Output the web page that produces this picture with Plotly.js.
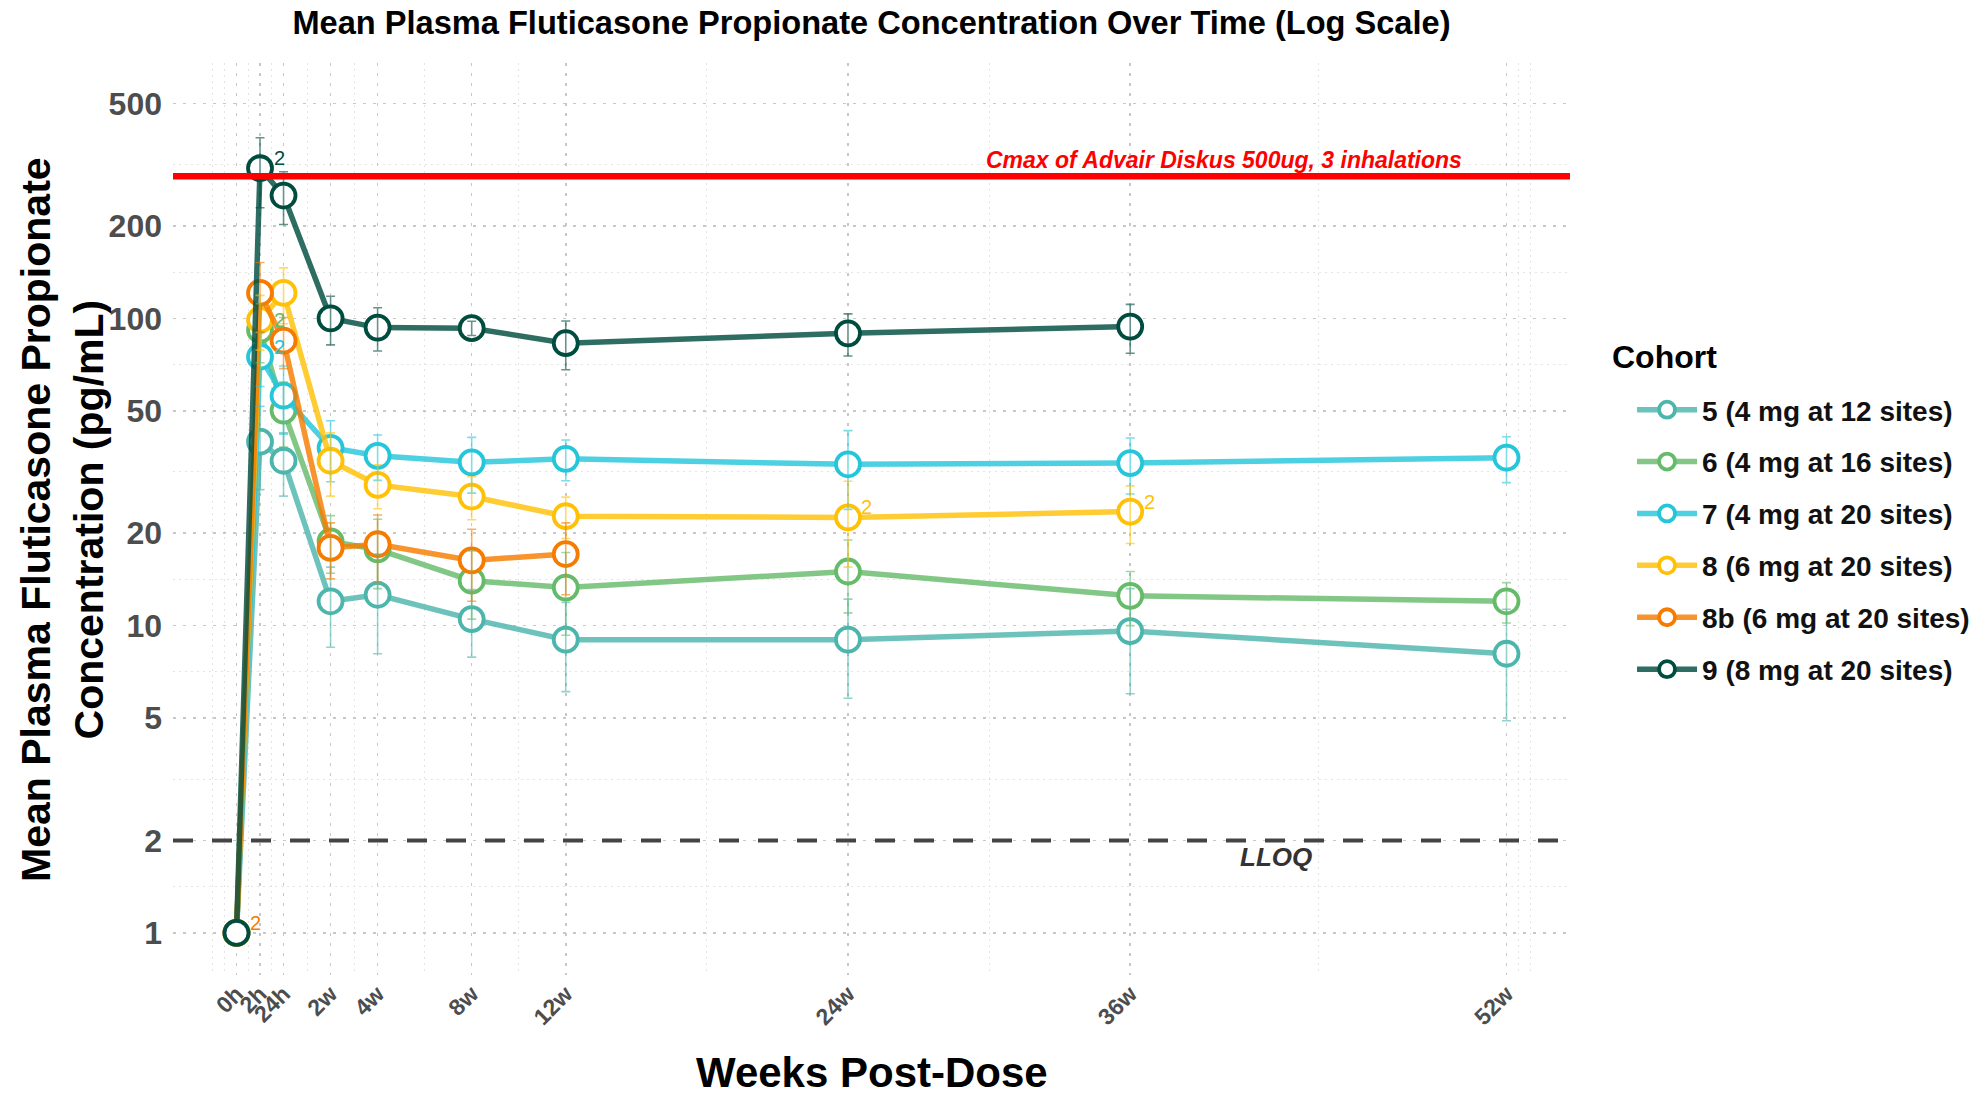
<!DOCTYPE html>
<html><head><meta charset="utf-8">
<script src="https://cdn.plot.ly/plotly-3.0.1.min.js"></script>
<style>html,body{margin:0;padding:0;background:#fff;} #chart{width:1982px;height:1098px;}</style>
</head><body><div id="chart"></div>
<script>
// ---- data ----
const timeLabels = ["0h","2h","24h","2w","4w","8w","12w","24w","36w","52w"];
const timeWeeks  = [-2, -1, 0, 2, 4, 8, 12, 24, 36, 52];

const cohortNames = ["5 (4 mg at 12 sites)","6 (4 mg at 16 sites)","7 (4 mg at 20 sites)",
                     "8 (6 mg at 20 sites)","8b (6 mg at 20 sites)","9 (8 mg at 20 sites)"];

const cohort5Mean  = [1, 39.7, 34.4, 12.0, 12.6, 10.5, 9.0, 9.0, 9.6, 8.1];
const cohort5SD    = [null, 12, 8, 3.5, 4.5, 2.6, 2.9, 3.2, 3.6, 3.2];
const cohort5N     = ["","","","","","","","","",""];

const cohort6Mean  = [1, 91.7, 50.1, 18.8, 17.7, 14.0, 13.3, 15.0, 12.5, 12.0];
const cohort6SD    = [null, 20, 12, 4, 4.5, 3.5, 4, 4, 2.5, 1.8];
const cohort6N     = ["","2","","","","","","","",""];

const cohort7Mean  = [1, 75, 56, 37.9, 35.7, 34.0, 34.9, 33.5, 33.8, 35.2];
const cohort7SD    = [null, 15, 14, 8.5, 6, 7, 5.3, 9.6, 7, 6];
const cohort7N     = ["","2","","","","","","","",""];

const cohort8Mean  = [1, 98.8, 121, 34.4, 28.7, 26.3, 22.7, 22.5, 23.5, null];
const cohort8SD    = [null, 20, 25, 8, 4.7, 4.2, 3.5, 7, 5, null];
const cohort8N     = ["","","","","","","","2","2",""];

const cohort8bMean = [1, 121, 84.6, 17.9, 18.4, 16.3, 17.1, null, null, null];
const cohort8bSD   = [null, 31, 16, 3.7, 4.5, 4.3, 4.5, null, null, null];
const cohort8bN    = ["2","","","","","","","","",""];

const cohort9Mean  = [1, 308, 251, 100, 93.3, 92.9, 83.0, 89.4, 94.0, null];
const cohort9SD    = [null, 79, 49, 18, 15, 5, 15, 14, 17, null];
const cohort9N     = ["","2","","","","","","","",""];

const yTickVals   = [1, 2, 5, 10, 20, 50, 100, 200, 500];
const yTickText   = ["1","2","5","10","20","50","100","200","500"];
const xMinorVals  = [-3, -2.5, -1.5, -0.5, 1, 3, 6, 10, 18, 30, 44, 52.5, 53];
const advairCmax  = 290;
const lloqValue   = 2;

// ---- styles ----
const palette = ["#4DB6AC", "#66BB6A", "#26C6DA", "#FFC107", "#F57C00", "#004D40"];
function rgba(hex, a) {
  const n = parseInt(hex.slice(1), 16);
  return `rgba(${(n>>16)&255},${(n>>8)&255},${n&255},${a})`;
}
const FONT = "Liberation Sans, Arial, Helvetica, sans-serif";

const series = [
  {mean: cohort5Mean,  sd: cohort5SD,  n: cohort5N},
  {mean: cohort6Mean,  sd: cohort6SD,  n: cohort6N},
  {mean: cohort7Mean,  sd: cohort7SD,  n: cohort7N},
  {mean: cohort8Mean,  sd: cohort8SD,  n: cohort8N},
  {mean: cohort8bMean, sd: cohort8bSD, n: cohort8bN},
  {mean: cohort9Mean,  sd: cohort9SD,  n: cohort9N}
];

const traces = [];
series.forEach((s, i) => {
  traces.push({
    type: "scatter", mode: "lines+markers",
    x: timeWeeks, y: s.mean, name: cohortNames[i],
    legendgroup: "g" + i,
    line: {color: rgba(palette[i], 0.82), width: 5.5},
    marker: {symbol: "circle", size: 24, color: "#ffffff", line: {color: palette[i], width: 3.8}},
    hoverinfo: "skip"
  });
});
// error bars drawn on top (only where an SD exists)
series.forEach((s, i) => {
  const idx = s.sd.map((v, j) => j).filter(j => s.sd[j] != null && s.mean[j] != null);
  traces.push({
    type: "scatter", mode: "markers",
    x: idx.map(j => timeWeeks[j]), y: idx.map(j => s.mean[j]), showlegend: false,
    marker: {size: 2, opacity: 0},
    error_y: {type: "data", array: idx.map(j => s.sd[j]), symmetric: true, visible: true,
              color: rgba(palette[i], 0.6), thickness: 1.6, width: 4.5},
    hoverinfo: "skip"
  });
});

const annotations = [];
series.forEach((s, i) => {
  s.n.forEach((lab, j) => {
    if (lab && s.mean[j] != null) {
      annotations.push({
        x: timeWeeks[j], y: Math.log10(s.mean[j]), xref: "x", yref: "y",
        text: lab, showarrow: false, xshift: 19, yshift: 10,
        font: {family: FONT, size: 20, color: palette[i]}
      });
    }
  });
});
annotations.push({
  x: 50.2, y: Math.log10(advairCmax), xref: "x", yref: "y",
  text: "Cmax of Advair Diskus 500ug, 3 inhalations", showarrow: false,
  xanchor: "right", yanchor: "bottom", yshift: 1,
  font: {family: FONT, size: 23, color: "#FF0000", style: "italic", weight: "bold"}
});
annotations.push({
  x: 42.2, y: Math.log10(lloqValue), xref: "x", yref: "y",
  text: "LLOQ", showarrow: false, xanchor: "center", yanchor: "top", yshift: 0,
  font: {family: FONT, size: 26, color: "#333333", style: "italic", weight: "bold"}
});
annotations.push({
  x: 1.0286, y: 0.6776, xref: "paper", yref: "paper",
  text: "Cohort", showarrow: false, xanchor: "left", yanchor: "middle",
  font: {family: FONT, size: 32, color: "#000000", weight: "bold"}
});
// axis titles
annotations.push({
  x: -0.0795, y: 0.5, xref: "paper", yref: "paper", textangle: -90,
  text: "Mean Plasma Fluticasone Propionate<br>Concentration (pg/mL)", showarrow: false,
  xanchor: "center", yanchor: "middle",
  font: {family: FONT, size: 41, color: "#000000", weight: "bold"}
});
annotations.push({
  x: 0.5, y: (975 - 1072) / 912, xref: "paper", yref: "paper",
  text: "Weeks Post-Dose", showarrow: false, xanchor: "center", yanchor: "middle",
  borderpad: 0,
  font: {family: FONT, size: 42, color: "#000000", weight: "bold"}
});

const layout = {
  width: 1982, height: 1098,
  paper_bgcolor: "#ffffff", plot_bgcolor: "#ffffff",
  margin: {l: 173, r: 412, t: 63, b: 123, autoexpand: false},
  font: {family: FONT},
  title: {
    text: "Mean Plasma Fluticasone Propionate Concentration Over Time (Log Scale)",
    font: {family: FONT, size: 32.6, color: "#000000", weight: "bold"},
    x: 0.5, xref: "paper", xanchor: "center",
    y: 1 - 23/1098, yref: "container", yanchor: "middle"
  },
  xaxis: {
    range: [-4.7, 54.7], type: "linear",
    tickmode: "array", tickvals: timeWeeks, ticktext: timeLabels,
    tickangle: -45, ticks: "",
    tickfont: {family: FONT, size: 23, color: "#4D4D4D", weight: "bold"},
    showline: false, zeroline: false,
    showgrid: true, gridcolor: "#C8C8C8", gridwidth: 1.5, griddash: "3px,7px",
    minor: {tickmode: "array", tickvals: xMinorVals, showgrid: true,
            gridcolor: "#E4E4E4", gridwidth: 1, griddash: "2px,4px", ticks: ""},
    automargin: false
  },
  yaxis: {
    type: "log", range: [-0.137, 2.831],
    tickmode: "array", tickvals: yTickVals, ticktext: yTickText, ticks: "",
    ticklabelstandoff: 10,
    tickfont: {family: FONT, size: 32, color: "#4D4D4D", weight: "bold"},
    showline: false, zeroline: false,
    showgrid: true, gridcolor: "#C8C8C8", gridwidth: 1.5, griddash: "3px,7px",
    minor: {tickmode: "array",
            tickvals: yTickVals.slice(0, -1).map((v, k) => Math.sqrt(v * yTickVals[k + 1])),
            showgrid: true, gridcolor: "#E4E4E4", gridwidth: 1, griddash: "2px,4px", ticks: ""},
    automargin: false
  },
  shapes: [
    {type: "line", xref: "paper", x0: 0, x1: 1, yref: "y",
     y0: advairCmax, y1: advairCmax,
     line: {color: "#FF0000", width: 6.5}, layer: "above"},
    {type: "line", xref: "paper", x0: 0, x1: 1, yref: "y",
     y0: lloqValue, y1: lloqValue,
     line: {color: "#444444", width: 4, dash: "20px,19px"}, layer: "above"}
  ],
  annotations: annotations,
  showlegend: true,
  legend: {
    x: 1.0444, xanchor: "left", y: 0.6470, yanchor: "top",
    font: {family: FONT, size: 28, color: "#111111", weight: "bold"},
    tracegroupgap: 12.5, bgcolor: "rgba(0,0,0,0)", itemwidth: 60
  },
  hovermode: false
};

Plotly.newPlot("chart", traces, layout, {displayModeBar: false, staticPlot: true});
</script>
</body></html>
